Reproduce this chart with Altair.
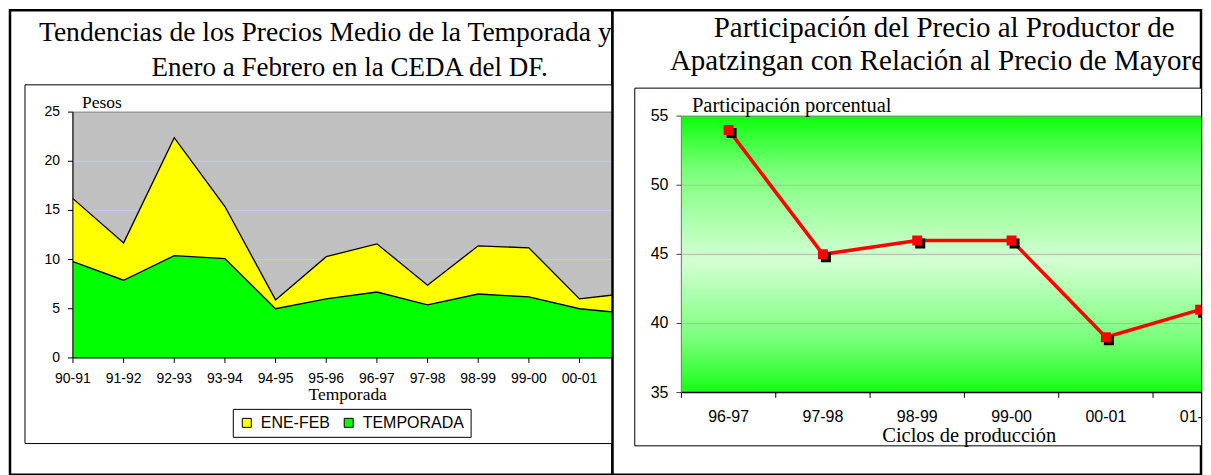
import altair as alt
import pandas as pd

# ---------------- data ----------------
seasons = ["90-91", "91-92", "92-93", "93-94", "94-95", "95-96",
           "96-97", "97-98", "98-99", "99-00", "00-01", "01-02"]
ene_feb = [16.2, 11.7, 22.4, 15.4, 5.9, 10.3, 11.6, 7.4, 11.4, 11.2, 6.0, 6.6]
temporada = [9.8, 7.9, 10.4, 10.1, 5.0, 6.0, 6.7, 5.4, 6.5, 6.2, 5.0, 4.5]
left_ticks = [0, 5, 10, 15, 20, 25]
left_grid = [5, 10, 15, 20]
series_names = ["ENE-FEB", "TEMPORADA"]

cycles = ["96-97", "97-98", "98-99", "99-00", "00-01", "01-02"]
participacion = [54, 45, 46, 46, 39, 41]
right_ticks = [35, 40, 45, 50, 55]
right_grid = [40, 45, 50]

SERIF = "Liberation Serif"
SANS = "Liberation Sans"
LW, RW, H = 603, 589, 465
one = pd.DataFrame({"k": [0]})


def text(t, x, y, size, align="left", font=SERIF, clip=False):
    return alt.Chart(one).mark_text(
        text=t, font=font, fontSize=size, align=align, baseline="alphabetic",
        color="black", clip=clip
    ).encode(x=alt.value(x), y=alt.value(y))


def box(x, x2, y, y2, fill, stroke, sw=1):
    return alt.Chart(one).mark_rect(fill=fill, stroke=stroke, strokeWidth=sw, clip=True).encode(
        x=alt.value(x), x2=alt.value(x2), y=alt.value(y), y2=alt.value(y2))


def rule(x, x2, y, y2, color, sw=1):
    return alt.Chart(one).mark_rule(color=color, strokeWidth=sw, clip=True).encode(
        x=alt.value(x), x2=alt.value(x2), y=alt.value(y), y2=alt.value(y2))


# ---------------- left panel ----------------
left_df = pd.DataFrame({"season": seasons, "ene_feb": ene_feb, "temporada": temporada})
lx = alt.Scale(type="point", domain=seasons, range=[63, 620.7], padding=0)
ly = alt.Scale(domain=[0, 25], range=[348, 102], nice=False, zero=False)
cscale = alt.Scale(domain=series_names, range=["#ffff00", "#00ff00"])
leg = alt.Legend(orient="none", legendX=223, legendY=399, direction="horizontal",
                 title=None, symbolType="square", symbolSize=81,
                 symbolStrokeColor="black", symbolStrokeWidth=1, symbolOpacity=1,
                 labelFont=SANS, labelFontSize=16, labelColor="black",
                 strokeColor="black", fillColor="white", padding=6,
                 columnPadding=10, labelOffset=6)

LX = lambda: alt.X("season:N", scale=lx, axis=None)
l_grid = alt.Chart(pd.DataFrame({"v": left_grid})).mark_rule(
    color="#c8c8f4", strokeWidth=1, clip=True).encode(
    y=alt.Y("v:Q", scale=ly, axis=None), x=alt.value(63), x2=alt.value(900))

area_ef = alt.Chart(left_df).transform_calculate(series="'ENE-FEB'").mark_area(
    clip=True, opacity=1).encode(
    x=LX(), y=alt.Y("ene_feb:Q", scale=ly, axis=None),
    color=alt.Color("series:N", scale=cscale, legend=leg))
area_t = alt.Chart(left_df).transform_calculate(series="'TEMPORADA'").mark_area(
    clip=True, opacity=1).encode(
    x=LX(), y=alt.Y("temporada:Q", scale=ly, axis=None),
    color=alt.Color("series:N", scale=cscale, legend=leg))
line_ef = alt.Chart(left_df).mark_line(color="black", strokeWidth=1.3, clip=True).encode(
    x=LX(), y=alt.Y("ene_feb:Q", scale=ly, axis=None))
line_t = alt.Chart(left_df).mark_line(color="black", strokeWidth=1.3, clip=True).encode(
    x=LX(), y=alt.Y("temporada:Q", scale=ly, axis=None))

lt_df = pd.DataFrame({"v": left_ticks})
l_ylabels = alt.Chart(lt_df).mark_text(
    font=SANS, fontSize=14, color="black", align="right", baseline="middle").encode(
    y=alt.Y("v:Q", scale=ly, axis=None), x=alt.value(50), text="v:Q")
l_yticks = alt.Chart(lt_df).mark_rule(color="black", strokeWidth=1).encode(
    y=alt.Y("v:Q", scale=ly, axis=None), x=alt.value(58), x2=alt.value(63))
l_xlabels = alt.Chart(left_df).mark_text(
    font=SANS, fontSize=14, color="black", align="center", baseline="middle", clip=True).encode(
    x=LX(), y=alt.value(369), text="season:N")
l_xticks = alt.Chart(left_df).mark_rule(color="black", strokeWidth=1, clip=True).encode(
    x=LX(), y=alt.value(348), y2=alt.value(353))

left = alt.layer(
    box(15, 900, 74.7, 433.7, "white", "black"),
    box(63, 900, 102, 348, "#c0c0c0", "#808080"),
    l_grid, area_ef, area_t, line_ef, line_t,
    rule(63, 63, 102, 348, "black"),
    rule(63, 900, 348, 348, "black"),
    l_yticks, l_ylabels, l_xticks, l_xlabels,
    text("Tendencias de los Precios Medio de la Temporada y de", 29, 31, 27.6, clip=True),
    text("Enero a Febrero en la CEDA del DF.", 340, 66, 27, align="center"),
    text("Pesos", 72, 98, 17.5),
    text("Temporada", 338, 390, 17.5, align="center"),
).properties(width=LW, height=H)

# ---------------- right panel ----------------
right_df = pd.DataFrame({"cycle": cycles, "value": participacion})
rx = alt.Scale(type="band", domain=cycles, range=[69, 635.4], paddingInner=0, paddingOuter=0)
ry = alt.Scale(domain=[35, 55], range=[382.7, 106], nice=False, zero=False)
RX = lambda: alt.X("cycle:N", scale=rx, axis=None)

grad = alt.Gradient(
    gradient="linear", x1=0, y1=0, x2=0, y2=1,
    stops=[alt.GradientStop(color="#0cff0c", offset=0),
           alt.GradientStop(color="#7cff7c", offset=0.2),
           alt.GradientStop(color="#d4ffd4", offset=0.52),
           alt.GradientStop(color="#7cff7c", offset=0.8),
           alt.GradientStop(color="#14ff14", offset=1)])

r_grid = alt.Chart(pd.DataFrame({"v": right_grid})).mark_rule(
    color="#b4b4b4", strokeWidth=1, clip=True).encode(
    y=alt.Y("v:Q", scale=ry, axis=None), x=alt.value(69), x2=alt.value(900))
r_ticks = alt.Chart(right_df).mark_rule(color="black", strokeWidth=1, clip=True, xOffset=-47.2).encode(
    x=RX(), y=alt.value(382.7), y2=alt.value(388))
r_labels = alt.Chart(right_df).mark_text(
    font=SANS, fontSize=16, color="black", baseline="middle", align="center", clip=True).encode(
    x=RX(), y=alt.value(407), text="cycle:N")

rt_df = pd.DataFrame({"v": right_ticks})
r_ylabels = alt.Chart(rt_df).mark_text(
    font=SANS, fontSize=16, color="black", align="right", baseline="middle").encode(
    y=alt.Y("v:Q", scale=ry, axis=None), x=alt.value(56), text="v:Q")
r_yticks = alt.Chart(rt_df).mark_rule(color="#404040", strokeWidth=1).encode(
    y=alt.Y("v:Q", scale=ry, axis=None), x=alt.value(64), x2=alt.value(69))

r_line = alt.Chart(right_df).mark_line(color="#ff0000", strokeWidth=3.5, clip=True).encode(
    x=RX(), y=alt.Y("value:Q", scale=ry, axis=None))
r_shadow = alt.Chart(right_df).mark_square(
    color="black", size=100, opacity=1, xOffset=3, yOffset=3, clip=True).encode(
    x=RX(), y=alt.Y("value:Q", scale=ry, axis=None))
r_pts = alt.Chart(right_df).mark_square(
    color="#ff0000", size=100, opacity=1, clip=True).encode(
    x=RX(), y=alt.Y("value:Q", scale=ry, axis=None))

right = alt.layer(
    box(22.3, 900, 78, 436, "white", "black"),
    box(69, 900, 106, 382.7, grad, "#808080"),
    r_grid,
    rule(69, 69, 106, 382.7, "#808080"),
    rule(69, 900, 382.7, 382.7, "black", 1.5),
    r_yticks, r_ylabels, r_ticks, r_labels, r_line, r_shadow, r_pts,
    text("Participación del Precio al Productor de", 332, 27, 29, align="center", clip=True),
    text("Apatzingan con Relación al Precio de Mayoreo", 332, 60, 29, align="center", clip=True),
    text("Participación porcentual", 79.5, 102, 20.5),
    text("Ciclos de producción", 357, 432, 20.5, align="center"),
).properties(width=RW, height=H)

chart = alt.hconcat(left, right, spacing=0, bounds="flush").configure_view(
    stroke="black", strokeWidth=2.5, fill="white"
).properties(padding=0)

chart.save("out.html", embed_options={"renderer": "svg", "actions": False})
